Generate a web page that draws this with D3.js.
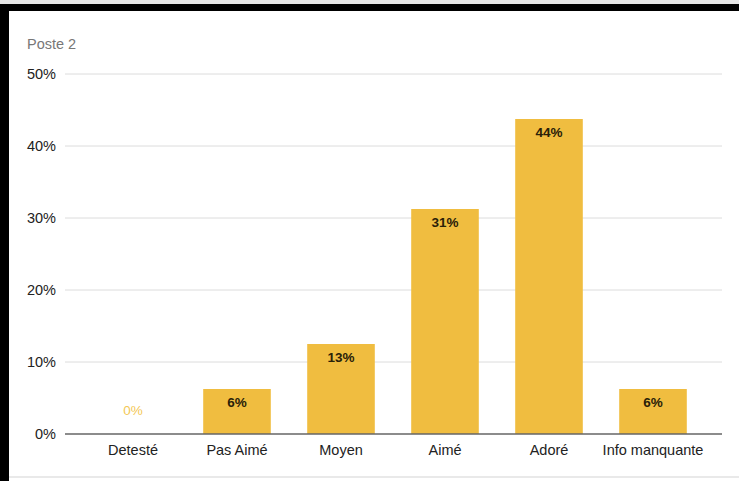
<!DOCTYPE html>
<html>
<head>
<meta charset="utf-8">
<script src="https://cdn.jsdelivr.net/npm/d3@7"></script>
<style>
  body { margin:0; background:#fff; }
  svg { display:block; font-family:"Liberation Sans", Arial, Helvetica, sans-serif; }
</style>
</head>
<body>
<svg id="chart" width="739" height="481"></svg>
<script>
// data
var categories = ["Detesté", "Pas Aimé", "Moyen", "Aimé", "Adoré", "Info manquante"];
var values = [0, 6.25, 12.5, 31.25, 43.75, 6.25];
var yTicks = [0, 10, 20, 30, 40, 50];
var title = "Poste 2";

var svg = d3.select("#chart");
var W = 739, H = 481;

// frame like the screenshot
svg.append("rect").attr("x",0).attr("y",0).attr("width",W).attr("height",4).attr("fill","#e6e6e6");
svg.append("rect").attr("x",0).attr("y",4).attr("width",W).attr("height",7).attr("fill","#000");
svg.append("rect").attr("x",0).attr("y",4).attr("width",9).attr("height",H-4).attr("fill","#000");
svg.append("rect").attr("x",9).attr("y",476).attr("width",W-9).attr("height",2).attr("fill","#e9e9e9");

var gridLeft = 65, gridRight = 722;
var x = d3.scaleBand().domain(categories).range([81, 705]).paddingInner(0.35).paddingOuter(0.175);
var y = d3.scaleLinear().domain([0, 50]).range([434, 74]);

svg.append("text").attr("x",27).attr("y",49).attr("fill","#777")
  .style("font-size","14.5px").text(title);

// grid
svg.append("g").selectAll("line").data(yTicks.filter(d => d > 0)).join("line")
  .attr("x1",gridLeft).attr("x2",gridRight)
  .attr("y1",d => y(d)).attr("y2",d => y(d))
  .attr("stroke","#dcdcdc").attr("stroke-width",1);

var yAxis = d3.axisLeft(y).tickValues(yTicks).tickFormat(d => d + "%").tickSize(0).tickPadding(9);
var gy = svg.append("g").attr("transform","translate(" + gridLeft + ",0)").call(yAxis);
gy.select(".domain").remove();
gy.selectAll("text").attr("fill","#222").style("font-size","14.5px").style("font-family","inherit");

// bars
svg.append("g").selectAll("rect").data(values).join("rect")
  .attr("x",(d,i) => x(categories[i]))
  .attr("width",x.bandwidth())
  .attr("y",d => y(d))
  .attr("height",d => y(0) - y(d))
  .attr("fill","#f0bd40");

// value labels
svg.append("g").selectAll("text").data(values).join("text")
  .attr("x",(d,i) => x(categories[i]) + x.bandwidth()/2)
  .attr("y",d => d > 0 ? y(d) + 18 : y(0) - 19)
  .attr("text-anchor","middle")
  .attr("fill",d => d > 0 ? "#2a2108" : "#f3c856")
  .style("font-size","13.5px")
  .style("font-weight",d => d > 0 ? "bold" : "normal")
  .text(d => Math.round(d) + "%");

// baseline
svg.append("line").attr("x1",gridLeft).attr("x2",gridRight)
  .attr("y1",y(0)).attr("y2",y(0)).attr("stroke","#666").attr("stroke-width",1.6);

var xAxis = d3.axisBottom(x).tickSize(0).tickPadding(11);
var gx = svg.append("g").attr("transform","translate(0," + y(0) + ")").call(xAxis);
gx.select(".domain").remove();
gx.selectAll("text").attr("fill","#222").style("font-size","14.5px").style("font-family","inherit");
</script>
</body>
</html>
